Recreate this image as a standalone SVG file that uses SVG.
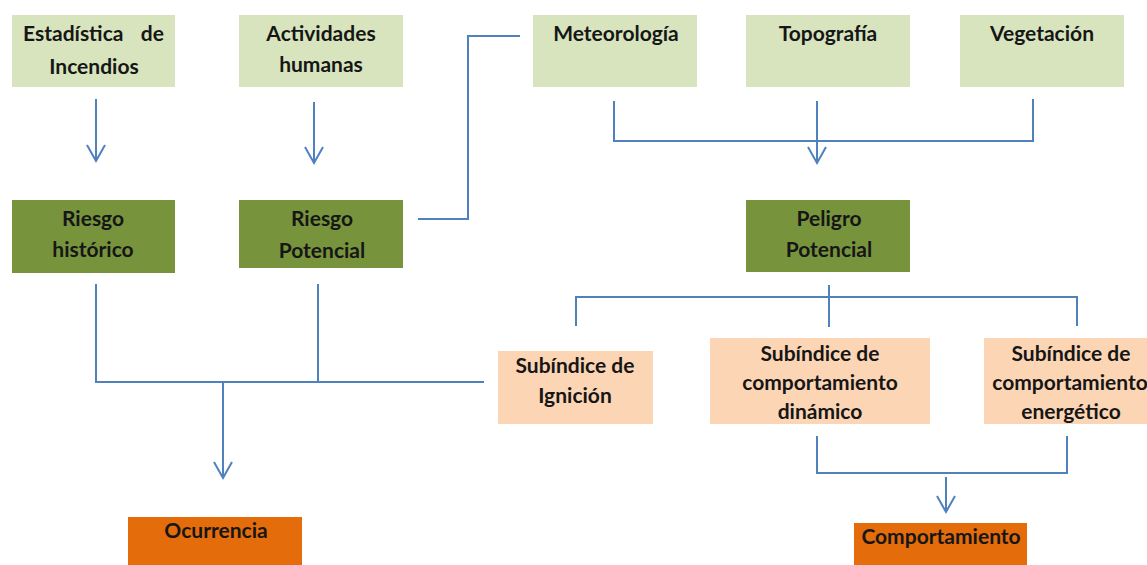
<svg xmlns="http://www.w3.org/2000/svg" width="1147" height="565" viewBox="0 0 1147 565">
<style>
.lg{fill:#D7E4BD}
.dg{fill:#77933C}
.pe{fill:#FCD5B5}
.or{fill:#E46C0A}
text{font-family:Lato,"Liberation Sans",sans-serif;font-weight:bold;font-size:21px;fill:#161616;text-anchor:middle}
.c{fill:none;stroke:#4F81BD;stroke-width:2}
</style>
<defs>
<marker id="ah" markerUnits="userSpaceOnUse" markerWidth="22" markerHeight="24" viewBox="-18 -11 22 22" refX="0" refY="0" orient="auto">
<path d="M-16 -9 L0 0 L-16 9" fill="none" stroke="#4F81BD" stroke-width="2"/>
</marker>
</defs>
<g id="connectors">
<path class="c" d="M96 99 V161" marker-end="url(#ah)"/>
<path class="c" d="M314 102 V163" marker-end="url(#ah)"/>
<path class="c" d="M418 219 H468 V36 H520"/>
<path class="c" d="M614 101 V141 H1033 V99"/>
<path class="c" d="M817 101 V163" marker-end="url(#ah)"/>
<path class="c" d="M829 285 V327"/>
<path class="c" d="M576 326 V297 H1077 V326"/>
<path class="c" d="M96 284 V382 H484"/>
<path class="c" d="M318 284 V382"/>
<path class="c" d="M223 382 V478" marker-end="url(#ah)"/>
<path class="c" d="M817 436 V473 H1067 V436"/>
<path class="c" d="M946 477 V512" marker-end="url(#ah)"/>
</g>
<g id="estadistica"><rect class="lg" x="12" y="15" width="163" height="72"/><text x="23" y="41" style="text-anchor:start">Estadística</text><text x="164" y="41" style="text-anchor:end">de</text><text x="94" y="74">Incendios</text></g>
<g id="actividades"><rect class="lg" x="239" y="15" width="164" height="72"/><text x="321" y="41">Actividades</text><text x="321" y="72">humanas</text></g>
<g id="meteorologia"><rect class="lg" x="533" y="15" width="164" height="72"/><text x="616" y="41">Meteorología</text></g>
<g id="topografia"><rect class="lg" x="746" y="15" width="164" height="72"/><text x="828" y="41">Topografía</text></g>
<g id="vegetacion"><rect class="lg" x="960" y="15" width="164" height="72"/><text x="1042" y="41">Vegetación</text></g>
<g id="riesgo-historico"><rect class="dg" x="12" y="200" width="163" height="73"/><text x="93" y="226">Riesgo</text><text x="93" y="257">histórico</text></g>
<g id="riesgo-potencial"><rect class="dg" x="239" y="200" width="164" height="68"/><text x="322" y="226">Riesgo</text><text x="322" y="258">Potencial</text></g>
<g id="peligro-potencial"><rect class="dg" x="746" y="200" width="164" height="72"/><text x="829" y="226">Peligro</text><text x="829" y="257">Potencial</text></g>
<g id="sub-ignicion"><rect class="pe" x="498" y="351" width="155" height="73"/><text x="575" y="373">Subíndice de</text><text x="575" y="403">Ignición</text></g>
<g id="sub-dinamico"><rect class="pe" x="710" y="338" width="220" height="86"/><text x="820" y="361">Subíndice de</text><text x="820" y="390">comportamiento</text><text x="820" y="419">dinámico</text></g>
<g id="sub-energetico"><rect class="pe" x="984" y="338" width="175" height="86"/><text x="1071" y="361">Subíndice de</text><text x="1070" y="390">comportamiento</text><text x="1071" y="419">energético</text></g>
<g id="ocurrencia"><rect class="or" x="128" y="517" width="174" height="60"/><text x="216" y="538">Ocurrencia</text></g>
<g id="comportamiento"><rect class="or" x="854" y="523" width="173" height="50"/><text x="941" y="544">Comportamiento</text></g>
</svg>
